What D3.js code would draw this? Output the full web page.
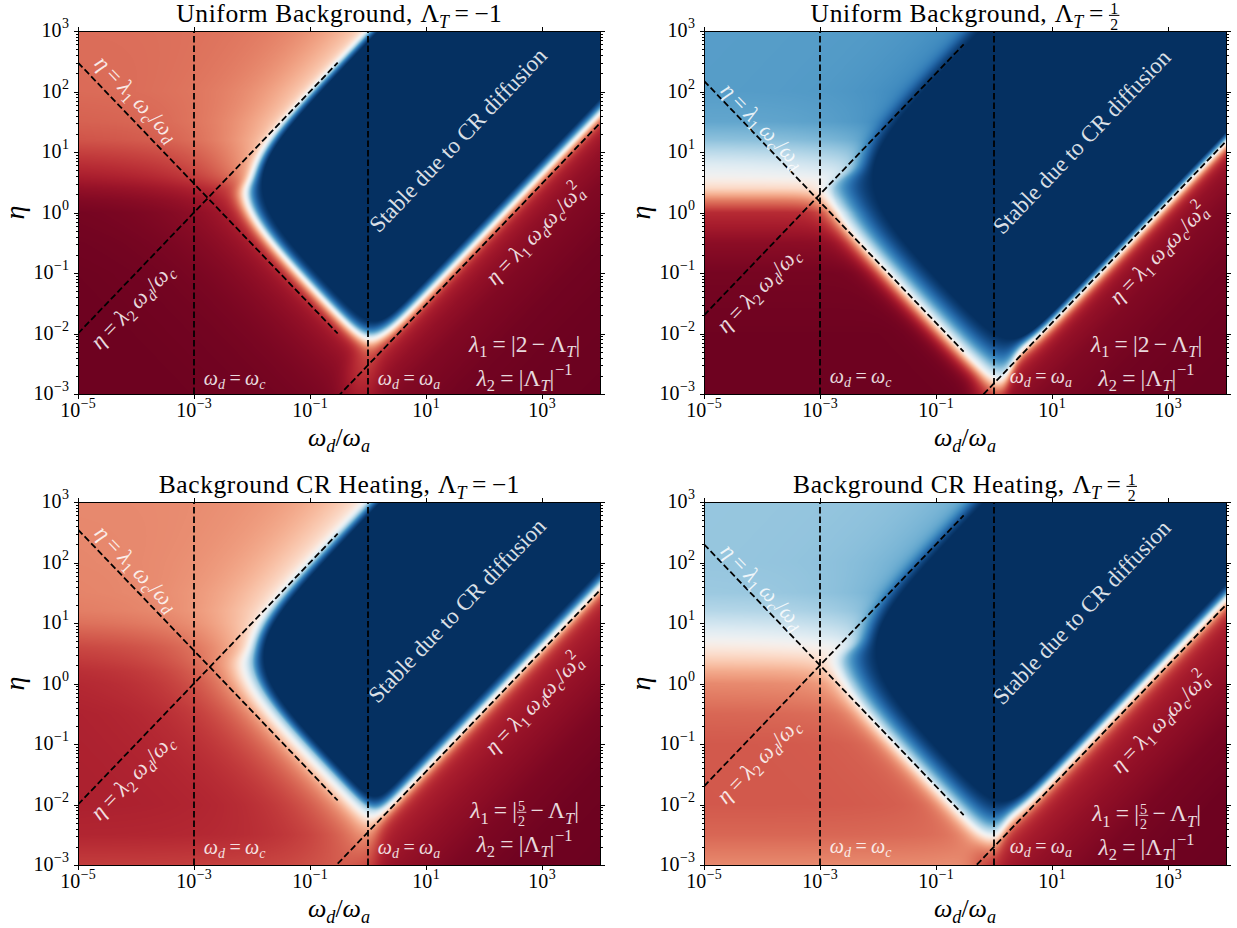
<!DOCTYPE html>
<html>
<head>
<meta charset="utf-8">
<script src="https://cdn.jsdelivr.net/npm/d3@7"></script>
<style>
  body { margin: 0; background: #fff; }
  text { font-family: "Liberation Serif", "DejaVu Serif", serif; }
</style>
</head>
<body>
<svg id="chart" width="1237" height="928"></svg>
<script>
// ---------- values ----------
const omegaC = 1e-3;
const omegaA = 1;
const titles = ["Uniform Background", "Uniform Background", "Background CR Heating", "Background CR Heating"];
const lambdaT = [-1, 0.5, -1, 0.5];
const lambdaTText = ["−1", "1/2", "−1", "1/2"];
const lambda1Base = [2, 2, 2.5, 2.5];          // λ1 = |base − ΛT|
const lambda1BaseText = ["2", "2", "5/2", "5/2"];

const xExtent = [1e-5, 1e4];
const yExtent = [1e-3, 1e3];
const xTickValues = [1e-5, 1e-3, 1e-1, 1e1, 1e3];
const yTickValues = [1e-3, 1e-2, 1e-1, 1, 1e1, 1e2, 1e3];
const guideEnd = 0.3;   // the two left guides stop here, the right one starts here

// edges of the saturated stable (dark blue) region, log10 intercepts
const stableLowEdge   = [-1.90, -2.10, -1.88, -2.07];  // log η + log ωd
const stableRightEdge = [-2.12, -2.67, -2.12, -2.35];  // log η − log ωd
const stableUpperEdge = [2.82, 3.25, 2.78, 3.17];      // log η − log ωd (upper-left side)
const tipRound    = [0.22, 0.30, 0.14, 0.27];
const cornerRound = [0.55, 0.60, 0.55, 0.60];
// rim of the stable region: [offset of the white, inner softness, outer softness], decades
const rimLow   = [[0.21, 0.06, 0.07], [0.51, 0.17, 0.10], [0.16, 0.06, 0.10], [0.42, 0.15, 0.10]];
const rimRight = [[0.16, 0.06, 0.06], [0.11, 0.05, 0.06], [0.18, 0.06, 0.07], [0.16, 0.06, 0.07]];
const rimUpper = [[0.10, 0.04, 0.04], [0.15, 0.08, 0.06], [0.12, 0.05, 0.05], [0.15, 0.08, 0.06]];
// wide faint glow around the stable region: [strength, width]
const glowLow   = [[0.15, 0.7], [0.0, 0.5], [0.40, 0.6], [0.10, 0.5]];
const glowUpper = [[0.30, 0.6], [0.30, 0.6], [0.35, 0.6], [0.30, 0.6]];

// colour level (0 = dark red, 0.5 = white, 1 = dark blue) down the left edge, by log η
const profileLogEta = [-3, -2.5, -2, -1, -0.5, 0, 0.2, 0.4, 0.6, 0.8, 1, 1.2, 1.5, 2, 3];
const leftLevels = [
  [0.008, 0.008, 0.008, 0.008, 0.01, 0.015, 0.03, 0.055, 0.09, 0.12, 0.15, 0.18, 0.20, 0.215, 0.22],
  [0.01, 0.01, 0.01, 0.02, 0.05, 0.12, 0.24, 0.40, 0.50, 0.56, 0.63, 0.70, 0.76, 0.78, 0.78],
  [0.15, 0.11, 0.10, 0.10, 0.10, 0.11, 0.12, 0.14, 0.16, 0.19, 0.22, 0.24, 0.25, 0.255, 0.26],
  [0.26, 0.21, 0.19, 0.19, 0.21, 0.26, 0.31, 0.38, 0.45, 0.53, 0.59, 0.64, 0.68, 0.69, 0.69]
];
// colour level below the right guide, by depth (decades of η under the line)
const depthSteps = [0, 0.5, 1, 2, 3, 5];
const rightLevels = [
  [0.10, 0.06, 0.035, 0.015, 0.008, 0.005],
  [0.10, 0.06, 0.035, 0.015, 0.008, 0.005],
  [0.12, 0.09, 0.065, 0.03, 0.012, 0.005],
  [0.12, 0.085, 0.06, 0.025, 0.01, 0.005]
];

// ---------- layout ----------
const W = 522, H = 363;
const colLeft = [78, 704], rowTop = [31, 502];
// annotation spots in log10 coordinates
const labelSpots = [
  {l1: [-4.01, 1.87], l2: [-4.05, -1.56], st: [1.56, 1.19], r: [2.89, -0.37], wc: [-2.83, -2.85], wa: [0.17, -2.85], lam: [2.70, -2.30, -2.86]},
  {l1: [-4.01, 1.42], l2: [-4.05, -1.29], st: [1.52, 1.16], r: [2.85, -0.69], wc: [-2.83, -2.81], wa: [0.27, -2.81], lam: [2.63, -2.30, -2.86]},
  {l1: [-4.01, 1.89], l2: [-4.05, -1.56], st: [1.54, 1.20], r: [2.87, -0.35], wc: [-2.83, -2.81], wa: [0.17, -2.81], lam: [2.70, -2.23, -2.78]},
  {l1: [-4.01, 1.59], l2: [-4.05, -1.29], st: [1.52, 1.17], r: [2.87, -0.65], wc: [-2.83, -2.80], wa: [0.27, -2.80], lam: [2.63, -2.28, -2.84]}
];

const svg = d3.select("#chart");
const rdbu = d3.scaleSequential(d3.interpolateRdBu).domain([0, 1]);
const lut = d3.range(1024).map(i => d3.rgb(rdbu(i / 1023)));
const SQ = Math.SQRT2;

function smin(a, b, k) {
  const m = Math.min(a, b);
  return m - k * Math.log(Math.exp((m - a) / k) + Math.exp((m - b) / k));
}
const sig = z => 1 / (1 + Math.exp(-z));

// ---------- math-ish text ----------
function mathRow(g, toks, size, col) {
  let x = 0;
  for (const k of toks) {
    x += (k.l || 0) * size;
    if (k.frac) {
      const fs = size * (k.fs || 0.68);
      const n = g.append("text").attr("font-size", fs).attr("y", -size * 0.33).text(k.frac[0]);
      const d = g.append("text").attr("font-size", fs).attr("y", size * 0.33).text(k.frac[1]);
      const wn = n.node().getComputedTextLength(), wd = d.node().getComputedTextLength();
      const bw = Math.max(wn, wd) + size * 0.1;
      n.attr("x", x + (bw - wn) / 2);
      d.attr("x", x + (bw - wd) / 2);
      g.append("line").attr("x1", x).attr("x2", x + bw)
        .attr("y1", -size * 0.26).attr("y2", -size * 0.26)
        .attr("stroke", col).attr("stroke-width", Math.max(0.8, size * 0.04));
      x += bw;
    } else {
      const b = g.append("text").attr("x", x).attr("font-size", size)
        .attr("font-style", k.it ? "italic" : null)
        .attr("letter-spacing", k.ls || null).text(k.t);
      x += b.node().getComputedTextLength();
      let ex = 0;
      if (k.sub) {
        const s = g.append("text").attr("x", x).attr("y", size * 0.22)
          .attr("font-size", size * 0.7).attr("font-style", k.subIt ? "italic" : null).text(k.sub);
        ex = s.node().getComputedTextLength();
      }
      if (k.sup) {
        const s = g.append("text").attr("x", x + size * 0.03).attr("y", -size * 0.45)
          .attr("font-size", size * 0.7).text(k.sup);
        ex = Math.max(ex, s.node().getComputedTextLength() + size * 0.03);
      }
      x += ex;
    }
    x += (k.r || 0) * size;
  }
  return x;
}

function place(parent, toks, size, x, y, anchor, angle, col, opacity, dy) {
  const outer = parent.append("g")
    .attr("transform", `translate(${x},${y}) rotate(${angle || 0})`)
    .attr("fill", col).attr("opacity", opacity);
  const inner = outer.append("g");
  const w = mathRow(inner, toks, size, col);
  const dx = anchor === "middle" ? -w / 2 : anchor === "end" ? -w : 0;
  inner.attr("transform", `translate(${dx},${dy || 0})`);
}

const eq = {t: "=", l: 0.22, r: 0.22};
const minus = {t: "−", l: 0.18, r: 0.18};
const eta = {t: "η", it: true};
const lam = n => ({t: "λ", it: true, sub: n});
const om = (s, sup, l) => ({t: "ω", it: true, sub: s, subIt: true, sup: sup, l: l || 0});
const slash = {t: "/"};
const LamT = l => ({t: "Λ", sub: "T", subIt: true, l: l || 0});
const numTok = (s, fs) => s.includes("/") ? {frac: s.split("/"), fs: fs} : {t: s};
const expText = e => (e < 0 ? "−" + (-e) : String(e));

// rim profile: 1 on the dark edge, 0.5 at the white, falling to 0 outside
function rimMix(d, d0, sIn, sOut) {
  if (d >= d0) return 1 / (1 + Math.exp((d - d0) / sOut));
  const a = 1 / (1 + Math.exp(-d0 / sIn));
  const l = 1 / (1 + Math.exp((d - d0) / sIn));
  return 0.5 + (l - 0.5) * 0.5 / (a - 0.5);
}

// ---------- panels ----------
titles.forEach((title, i) => {
  const col = i % 2, row = Math.floor(i / 2);
  const g = svg.append("g").attr("transform", `translate(${colLeft[col]},${rowTop[row]})`);

  const x = d3.scaleLog().domain(xExtent).range([0, W]);
  const y = d3.scaleLog().domain(yExtent).range([H, 0]);

  const lam1 = Math.abs(lambda1Base[i] - lambdaT[i]);
  const lam2 = 1 / Math.abs(lambdaT[i]);
  const rightLog = Math.log10(lam1 * omegaC / (omegaA * omegaA));

  const leftScale = d3.scaleLinear().domain(profileLogEta).range(leftLevels[i]).clamp(true);
  const depthScale = d3.scaleLinear().domain(depthSteps).range(rightLevels[i]).clamp(true);
  const rims = [rimLow[i], rimRight[i], rimUpper[i]];

  function level(lx, ly) {
    const g1 = (ly + lx - stableLowEdge[i]) / SQ;
    const g2 = (ly - lx - stableRightEdge[i]) / SQ;
    const g3 = (stableUpperEdge[i] + lx - ly) / SQ;
    const s = smin(smin(g1, g2, tipRound[i]), g3, cornerRound[i]);
    const gm = Math.min(g1, g2, g3);
    const e1 = Math.exp((gm - g1) / 0.12), e2 = Math.exp((gm - g2) / 0.12), e3 = Math.exp((gm - g3) / 0.12);
    const es = e1 + e2 + e3;
    const w = [e1 / es, e2 / es, e3 / es];
    const d = Math.max(0, -s);
    let d0 = 0, sIn = 0, sOut = 0;
    for (let k = 0; k < 3; k++) {
      d0 += w[k] * rims[k][0]; sIn += w[k] * rims[k][1]; sOut += w[k] * rims[k][2];
    }
    const ms = rimMix(d, d0, sIn, sOut);
    const mw = w[0] * glowLow[i][0] * Math.exp(-d / glowLow[i][1]) +
               w[2] * glowUpper[i][0] * Math.exp(-d / glowUpper[i][1]);
    const m = 1 - (1 - ms) * (1 - mw);
    const delta = rightLog + lx - ly;
    const r = sig((delta + 0.4) / 0.12) * sig((lx + 0.3) / 0.12);
    const tb = leftScale(ly) * (1 - r) + depthScale(delta) * r;
    const v = (2 * tb - 1) * (1 - m) + m;
    return Math.max(0, Math.min(1, (v + 1) / 2));
  }

  // heat map
  const canvas = document.createElement("canvas");
  canvas.width = W; canvas.height = H;
  const ctx = canvas.getContext("2d");
  const img = ctx.createImageData(W, H);
  for (let py = 0; py < H; py++) {
    const ly = Math.log10(y.invert(py + 0.5));
    for (let px = 0; px < W; px++) {
      const lx = Math.log10(x.invert(px + 0.5));
      const c = lut[Math.round(level(lx, ly) * 1023)];
      const o = (py * W + px) * 4;
      img.data[o] = c.r; img.data[o + 1] = c.g; img.data[o + 2] = c.b; img.data[o + 3] = 255;
    }
  }
  ctx.putImageData(img, 0, 0);
  g.append("image").attr("width", W).attr("height", H).attr("href", canvas.toDataURL());

  // guide lines
  const clipId = "clip" + i;
  g.append("clipPath").attr("id", clipId).append("rect").attr("width", W).attr("height", H);
  const guides = g.append("g").attr("clip-path", `url(#${clipId})`);
  const line = d3.line().x(d => x(d[0])).y(d => y(d[1]));
  const guideSets = [
    [xExtent[0], guideEnd].map(w => [w, lam1 * omegaC / w]),
    [xExtent[0], guideEnd].map(w => [w, lam2 * w / omegaC]),
    [guideEnd, xExtent[1]].map(w => [w, lam1 * w * omegaC / (omegaA * omegaA)]),
    [[omegaC, yExtent[0]], [omegaC, yExtent[1]]],
    [[omegaA, yExtent[0]], [omegaA, yExtent[1]]]
  ];
  guides.selectAll("path").data(guideSets).join("path")
    .attr("d", line).attr("fill", "none").attr("stroke", "#000")
    .attr("stroke-width", 1.8).attr("stroke-dasharray", "6.5,3");

  // annotations
  const ang = Math.atan2(y(1) - y(10), x(10) - x(1)) * 180 / Math.PI;
  const P = p => [x(Math.pow(10, p[0])), y(Math.pow(10, p[1]))];
  const sp = labelSpots[i];
  const txt = "#ffffff", op = 0.85;
  let p;
  p = P(sp.l1);
  place(g, [eta, eq, lam("1"), om("c", null, 0.2), slash, om("d")], 22.5, p[0], p[1], "middle", ang, txt, op, 6);
  p = P(sp.l2);
  place(g, [eta, eq, lam("2"), om("d", null, 0.2), slash, om("c")], 22.5, p[0], p[1], "middle", -ang, txt, op, 6);
  p = P(sp.st);
  place(g, [{t: "Stable due to CR diffusion"}], 23, p[0], p[1], "middle", -ang, txt, op, 7);
  p = P(sp.r);
  place(g, [eta, eq, lam("1"), om("d", null, 0.2), om("c"), slash, om("a", "2")], 22, p[0], p[1], "middle", -ang, txt, op, 6);
  p = P(sp.wc);
  place(g, [om("d"), eq, om("c")], 20, p[0], p[1], "start", 0, txt, op, 0);
  p = P(sp.wa);
  place(g, [om("d"), eq, om("a")], 20, p[0], p[1], "start", 0, txt, op, 0);
  const lx0 = x(Math.pow(10, sp.lam[0]));
  place(g, [lam("1"), eq, {t: "|"}, numTok(lambda1BaseText[i], 0.6), minus, LamT(), {t: "|"}], 23.5,
    lx0, y(Math.pow(10, sp.lam[1])), "middle", 0, txt, op, 0);
  place(g, [lam("2"), eq, {t: "|"}, LamT(), {t: "|", sup: "−1"}], 23.5,
    lx0, y(Math.pow(10, sp.lam[2])), "middle", 0, txt, op, 0);

  // axes: ticks outward on all four sides
  const minorY = d3.range(-3, 3).flatMap(e => d3.range(2, 10).map(k => k * Math.pow(10, e)));
  const tickStyle = sel => {
    sel.select(".domain").remove();
    sel.selectAll("text").remove();
    sel.selectAll("line").attr("stroke", "#000").attr("stroke-width", 1);
    sel.attr("shape-rendering", "crispEdges");
  };
  g.append("g").attr("transform", `translate(0,${H})`)
    .call(d3.axisBottom(x).tickValues(xTickValues).tickSize(4.5)).call(tickStyle);
  g.append("g").call(d3.axisTop(x).tickValues(xTickValues).tickSize(4.5)).call(tickStyle);
  g.append("g").call(d3.axisLeft(y).tickValues(yTickValues).tickSize(4.5)).call(tickStyle);
  g.append("g").call(d3.axisLeft(y).tickValues(minorY).tickSize(2.5)).call(tickStyle);
  g.append("g").attr("transform", `translate(${W},0)`)
    .call(d3.axisRight(y).tickValues(yTickValues).tickSize(4.5)).call(tickStyle);
  g.append("g").attr("transform", `translate(${W},0)`)
    .call(d3.axisRight(y).tickValues(minorY).tickSize(2.5)).call(tickStyle);
  g.append("rect").attr("width", W).attr("height", H).attr("fill", "none")
    .attr("stroke", "#000").attr("stroke-width", 1).attr("shape-rendering", "crispEdges");

  xTickValues.forEach(v => {
    place(g, [{t: "10", sup: expText(Math.round(Math.log10(v)))}], 20, x(v), H + 23, "middle", 0, "#000", 1, 0);
  });
  yTickValues.forEach(v => {
    place(g, [{t: "10", sup: expText(Math.round(Math.log10(v)))}], 20, -9, y(v) + 6, "end", 0, "#000", 1, 0);
  });

  // axis labels and title
  place(g, [om("d"), slash, om("a")], 26, W / 2, H + 52, "middle", 0, "#000", 1, 0);
  place(g, [eta], 28, -54, H / 2, "middle", -90, "#000", 1, 0);
  place(g, [{t: title + ",", ls: 0.6}, LamT(0.3), eq, numTok(lambdaTText[i], 0.62)], 25.5, W / 2, -9, "middle", 0, "#000", 1, 0);
});
</script>
</body>
</html>
